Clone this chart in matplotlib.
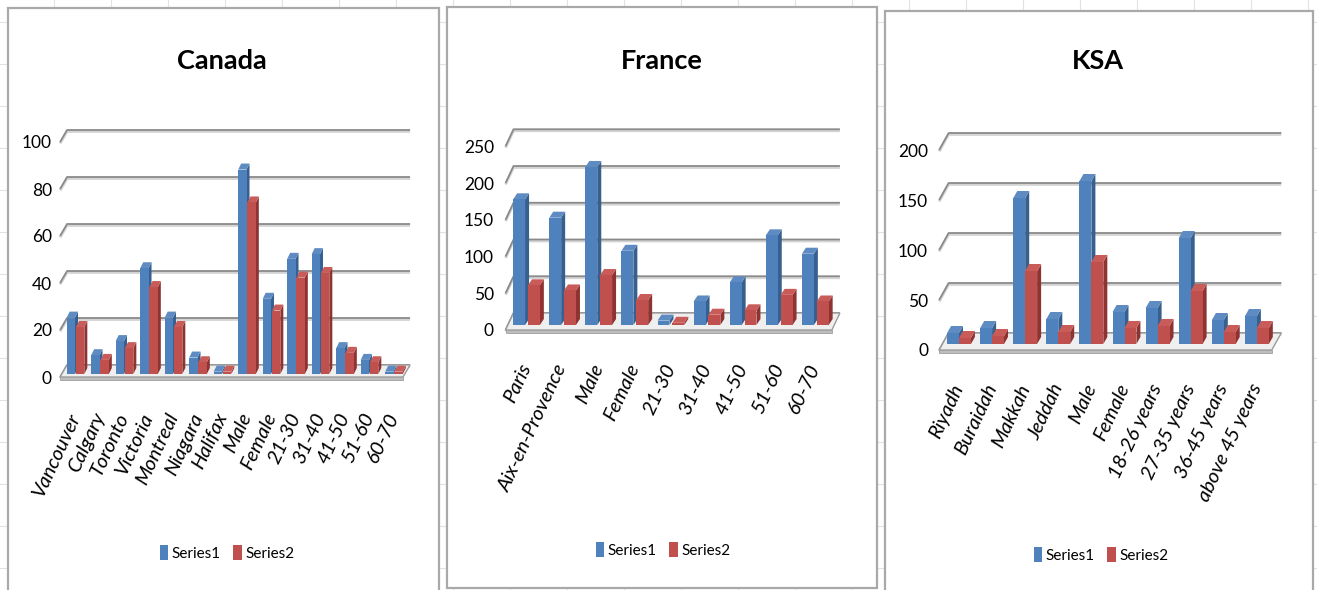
import matplotlib
matplotlib.use("Agg")
import matplotlib.pyplot as plt
from matplotlib.patches import Polygon, Rectangle
from matplotlib.lines import Line2D
from matplotlib.transforms import ScaledTranslation

W, H, DPI = 1317, 590, 100

# ---------------------------------------------------------------------------
# Data
# ---------------------------------------------------------------------------
canada_cats = ["Vancouver", "Calgary", "Toronto", "Victoria", "Montreal", "Niagara",
               "Halifax", "Male", "Female", "21-30", "31-40", "41-50", "51-60", "60-70"]
canada_s1 = [24, 8, 14, 45, 24, 7, 1, 87, 32, 49, 51, 11, 6, 1]
canada_s2 = [20, 6, 11, 37, 20, 5, 1, 73, 27, 41, 43, 9, 5, 1]

france_cats = ["Paris", "Aix-en-Provence", "Male", "Female", "21-30", "31-40",
               "41-50", "51-60", "60-70"]
france_s1 = [171, 146, 215, 101, 6, 32, 58, 122, 97]
france_s2 = [54, 47, 68, 34, 3, 14, 20, 41, 32]

ksa_cats = ["Riyadh", "Buraidah", "Makkah", "Jeddah", "Male", "Female",
            "18-26 years", "27-35 years", "36-45 years", "above 45 years"]
ksa_s1 = [11, 16, 146, 25, 163, 32, 36, 106, 24, 28]
ksa_s2 = [6, 8, 73, 12, 82, 16, 18, 53, 12, 16]

series_names = ["Series1", "Series2"]

FONT = ["Lato", "DejaVu Sans"]
plt.rcParams["font.family"] = FONT

BLUE = dict(front="#4F81BD", side="#35608F", top="#5F8BC3")
RED = dict(front="#C0504D", side="#8E3331", top="#C95C59")

# layout of each panel, in pixels of the final image
panels = [
    dict(title="Canada", cats=canada_cats, s1=canada_s1, s2=canada_s2,
         x0=75.5, step=24.5, base=374, scale=2.35, ymax=100, ystep=20,
         xlo=-0.63, xhi=13.37, front=(0, -3), back=(7, 9), depth=(3, 6),
         width=0.34, gap=0.02, title_xy=(221.5, 61), legend_xy=(227, 553),
         ylab_right=52, xlab_y=414, box=(8, 8, 439, 600)),
    dict(title="France", cats=france_cats, s1=france_s1, s2=france_s2,
         x0=526.5, step=36.1, base=325, scale=0.735, ymax=250, ystep=50,
         xlo=-0.58, xhi=8.46, front=(0, -5), back=(8, 12), depth=(4, 6),
         width=0.33, gap=0.04, title_xy=(662, 61), legend_xy=(663, 550),
         ylab_right=494, xlab_y=365, box=(447, 7, 877, 588)),
    dict(title="KSA", cats=ksa_cats, s1=ksa_s1, s2=ksa_s2,
         x0=959, step=33.1, base=344, scale=1.0, ymax=200, ystep=50,
         xlo=-0.6, xhi=9.45, front=(0, -6), back=(9.5, 11), depth=(4, 7),
         width=0.36, gap=0.0, title_xy=(1098, 61), legend_xy=(1101, 555),
         ylab_right=928, xlab_y=385, box=(885, 11, 1313, 600)),
]

fig = plt.figure(figsize=(W / DPI, H / DPI), dpi=DPI)
fig.patch.set_facecolor("white")

# faint spreadsheet cell grid behind the chart boxes
for gx in range(54, W, 57):
    fig.add_artist(Line2D([gx / W, gx / W], [0, 1], color="#E2E2E2", lw=0.8, zorder=-2))
for gy in range(22, H, 42):
    fig.add_artist(Line2D([0, 1], [1 - gy / H, 1 - gy / H], color="#E2E2E2", lw=0.8, zorder=-2))


def px_to_data(ax, dxp, dyp):
    inv = ax.transData.inverted()
    (xa, ya), (xb, yb) = inv.transform([(0, 0), (dxp, dyp)])
    return xb - xa, yb - ya


for p in panels:
    bx0, by0, bx1, by1 = p["box"]
    fig.add_artist(Rectangle((bx0 / W, 1 - by1 / H), (bx1 - bx0) / W, (by1 - by0) / H,
                             transform=fig.transFigure, facecolor="white",
                             edgecolor="#A9A9A9", lw=1.6, zorder=-1))

    n = len(p["cats"])
    xlim = (p["xlo"] - 0.05, p["xhi"] + (p["back"][0] + 4) / p["step"])
    ylim = ((p["front"][1] - 6) / p["scale"], p["ymax"] + (p["back"][1] + 8) / p["scale"])
    left = p["x0"] + xlim[0] * p["step"]
    right = p["x0"] + xlim[1] * p["step"]
    bottom = p["base"] - ylim[0] * p["scale"]
    top = p["base"] - ylim[1] * p["scale"]
    ax = fig.add_axes([left / W, 1 - bottom / H, (right - left) / W, (bottom - top) / H])
    ax.set_xlim(*xlim)
    ax.set_ylim(*ylim)
    ax.patch.set_visible(False)
    for s in ax.spines.values():
        s.set_visible(False)

    fdx, fdy = px_to_data(ax, *p["front"])
    wdx, wdy = px_to_data(ax, *p["back"])
    ddx, ddy = px_to_data(ax, *p["depth"])
    _, slab = px_to_data(ax, 0, 3)
    _, shade = px_to_data(ax, 0, 1.5)
    xlo, xhi = p["xlo"], p["xhi"]

    # back-wall gridlines with the slanted side-wall edge
    ticks = list(range(0, p["ymax"] + 1, p["ystep"]))
    for v in ticks:
        xs = [xlo + fdx, xlo + wdx, xhi + wdx]
        ax.plot(xs, [v + fdy - shade, v + wdy - shade, v + wdy - shade],
                color="#D4D4D4", lw=2.0, zorder=1, solid_capstyle="butt")
        ax.plot(xs, [v + fdy, v + wdy, v + wdy], color="#8A8A8A", lw=1.3, zorder=2,
                solid_capstyle="butt")

    # floor slab
    ax.add_patch(Polygon([(xlo + fdx, fdy), (xhi + fdx, fdy), (xhi + wdx, wdy), (xlo + wdx, wdy)],
                         closed=True, facecolor="#EFEFEF", edgecolor="#9C9C9C", lw=1.0, zorder=3))
    ax.add_patch(Polygon([(xlo + fdx, fdy), (xhi + fdx, fdy), (xhi + fdx, fdy - slab),
                          (xlo + fdx, fdy - slab)],
                         closed=True, facecolor="#BDBDBD", edgecolor="#A0A0A0", lw=0.6, zorder=3))

    # pseudo-3D columns
    w, g = p["width"], p["gap"]
    xs1 = [i - g - w for i in range(n)]
    xs2 = [i + g for i in range(n)]
    b1 = ax.bar(xs1, p["s1"], width=w, align="edge", color=BLUE["front"], lw=0)
    b2 = ax.bar(xs2, p["s2"], width=w, align="edge", color=RED["front"], lw=0)
    for i in range(n):
        for k, (bars, xs, vals, col) in enumerate([(b1, xs1, p["s1"], BLUE),
                                                   (b2, xs2, p["s2"], RED)]):
            x, h = xs[i], vals[i]
            z = 10 + 4 * i + 2 * k
            ax.add_patch(Polygon([(x + w, 0), (x + w + ddx, ddy), (x + w + ddx, h + ddy), (x + w, h)],
                                 closed=True, facecolor=col["side"], lw=0, zorder=z))
            ax.add_patch(Polygon([(x, h), (x + ddx, h + ddy), (x + w + ddx, h + ddy), (x + w, h)],
                                 closed=True, facecolor=col["top"], lw=0, zorder=z))
            bars.patches[i].set_zorder(z + 1)

    # y tick labels sit on the front plane
    ax.set_yticks(ticks)
    ax.set_yticklabels([str(t) for t in ticks], fontsize=12.5)
    ax.tick_params(axis="y", length=0, pad=(left - p["ylab_right"]) * 72 / DPI)
    for lab in ax.get_yticklabels():
        lab.set_transform(lab.get_transform() +
                          ScaledTranslation(0, p["front"][1] / DPI, fig.dpi_scale_trans))

    ax.set_xticks(range(n))
    ax.set_xticklabels(p["cats"], rotation=65, ha="right", va="center",
                       rotation_mode="anchor", fontsize=14.5, style="italic")
    ax.tick_params(axis="x", length=0, pad=(p["xlab_y"] - bottom) * 72 / DPI)

    lx, ly = p["legend_xy"]
    ax.legend([b1, b2], series_names, loc="center", bbox_to_anchor=(lx / W, 1 - ly / H),
              bbox_transform=fig.transFigure, ncol=2, frameon=False, fontsize=11,
              handlelength=0.55, handleheight=1.1, handletextpad=0.25, columnspacing=0.8)

    tx, ty = p["title_xy"]
    fig.text(tx / W, 1 - ty / H, p["title"], ha="center", va="center",
             fontsize=19.5, fontweight="bold")

fig.savefig("out.png", dpi=DPI)
plt.close(fig)
